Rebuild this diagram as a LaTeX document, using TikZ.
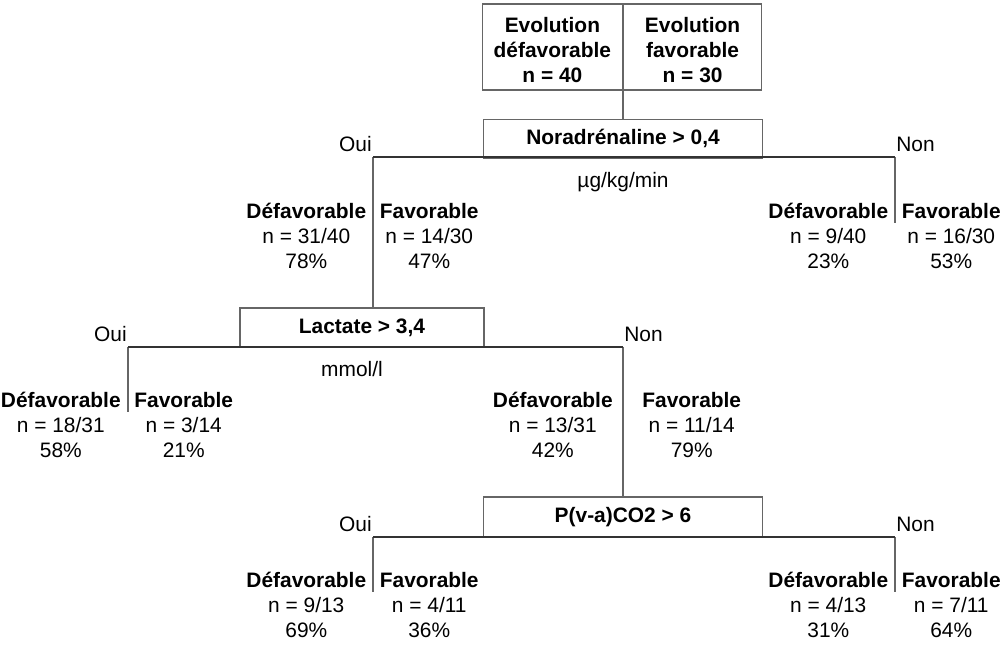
\documentclass[tikz,border=0pt]{standalone}
\usepackage{fontspec}
\setmainfont{Liberation Sans}
\usetikzlibrary{positioning}
\newcommand{\treefont}{\fontsize{11.9}{14.23}\selectfont}
\newcommand{\leafhead}[1]{\textbf{\vphantom{é}#1}}

\begin{document}
\begin{tikzpicture}[x=0.02cm,y=-0.02cm,font=\treefont,
	headbox/.style={draw=black!60,line width=0.7pt,align=center,inner sep=0pt,minimum height=1.72cm,font=\treefont\bfseries},
	testbox/.style={draw=black!60,line width=0.7pt,inner sep=0pt,minimum width=5.58cm,minimum height=0.78cm,font=\treefont\bfseries},
	branch/.style={draw=black!80,line width=0.7pt},
	stem/.style={draw=black!60,line width=0.7pt},
	leaf/.style={align=center,inner sep=0pt},
	side/.style={inner sep=0pt},
	unit/.style={inner sep=0pt}]

\useasboundingbox (0,0) rectangle (1001,648);

% root
\node[headbox,anchor=east,minimum width=2.8cm]   (bad)  at (623,47)   {\rule{0pt}{0.43cm}Evolution\\défavorable\\n = 40};
\node[headbox,anchor=west,minimum width=2.76cm]  (good) at (bad.east) {\rule{0pt}{0.43cm}Evolution\\favorable\\n = 30};

% tests
\node[testbox]   (nora)[below=0.56cm of bad.south east]   {Noradrénaline > 0,4};
\node[testbox,minimum width=4.88cm]   (lact) at (362,327.5)   {Lactate > 3,4};
\node[testbox,minimum height=0.8cm]   (pco2) at (623,517)   {P(v-a)CO2 > 6};

\node[unit]   (ug)[below=0.26cm of nora]   {µg/kg/min};
\node[unit]   (mmol)[below=0.26cm of lact,xshift=-0.2cm]   {mmol/l};

% branch points
\coordinate (n1oui) at (373,157);
\coordinate (n1non) at (895,157);
\coordinate (n1nonend) at (895,223);
\coordinate (l1oui) at (128,347);
\coordinate (l1non) at (623,347);
\coordinate (l1ouiend) at (128,412);
\coordinate (p1oui) at (373,537);
\coordinate (p1non) at (895,537);
\coordinate (p1ouiend) at (373,592);
\coordinate (p1nonend) at (895,592);

\node[side]   (n1ouilab)[above left=0.1cm and 0.02cm of n1oui]    {Oui};
\node[side]   (n1nonlab)[above right=0.1cm and 0.02cm of n1non]   {Non};
\node[side]   (l1ouilab)[above left=0.1cm and 0.02cm of l1oui]    {Oui};
\node[side]   (l1nonlab)[above right=0.1cm and 0.02cm of l1non]   {Non};
\node[side]   (p1ouilab)[above left=0.1cm and 0.02cm of p1oui]    {Oui};
\node[side]   (p1nonlab)[above right=0.1cm and 0.02cm of p1non]   {Non};

% leaves
\node[leaf]   (n1ouibad)[below left=0.92cm and 0.13cm of n1oui]     {\leafhead{Défavorable}\\n = 31/40\\78\%};
\node[leaf]   (n1ouigood)[below right=0.92cm and 0.13cm of n1oui]   {\leafhead{Favorable}\\n = 14/30\\47\%};
\node[leaf]   (n1nonbad)[below left=0.92cm and 0.13cm of n1non]     {\leafhead{Défavorable}\\n = 9/40\\23\%};
\node[leaf]   (n1nongood)[below right=0.92cm and 0.13cm of n1non]   {\leafhead{Favorable}\\n = 16/30\\53\%};

\node[leaf]   (l1ouibad)[below left=0.9cm and 0.14cm of l1oui]    {\leafhead{Défavorable}\\n = 18/31\\58\%};
\node[leaf]   (l1ouigood)[below right=0.9cm and 0.12cm of l1oui]  {\leafhead{Favorable}\\n = 3/14\\21\%};
\node[leaf]   (l1nonbad)[below left=0.9cm and 0.2cm of l1non]     {\leafhead{Défavorable}\\n = 13/31\\42\%};
\node[leaf]   (l1nongood)[below right=0.9cm and 0.38cm of l1non]  {\leafhead{Favorable}\\n = 11/14\\79\%};

\node[leaf]   (p1ouibad)[below left=0.7cm and 0.13cm of p1oui]    {\leafhead{Défavorable}\\n = 9/13\\69\%};
\node[leaf]   (p1ouigood)[below right=0.7cm and 0.13cm of p1oui]  {\leafhead{Favorable}\\n = 4/11\\36\%};
\node[leaf]   (p1nonbad)[below left=0.7cm and 0.13cm of p1non]    {\leafhead{Défavorable}\\n = 4/13\\31\%};
\node[leaf]   (p1nongood)[below right=0.7cm and 0.13cm of p1non]  {\leafhead{Favorable}\\n = 7/11\\64\%};

% connectors
\path[stem] (bad.south east)  edge  (nora.north)
	(n1oui)  edge  (n1oui |- lact.north)
	(n1non)  edge  (n1nonend)
	(l1oui)  edge  (l1ouiend)
	(l1non)  edge  (pco2.north)
	(p1oui)  edge  (p1ouiend)
	(p1non)  edge  (p1nonend);
\path[branch] (n1oui)  edge  (n1non)
	(l1oui)  edge  (l1non)
	(p1oui)  edge  (p1non);
\end{tikzpicture}
\end{document}
